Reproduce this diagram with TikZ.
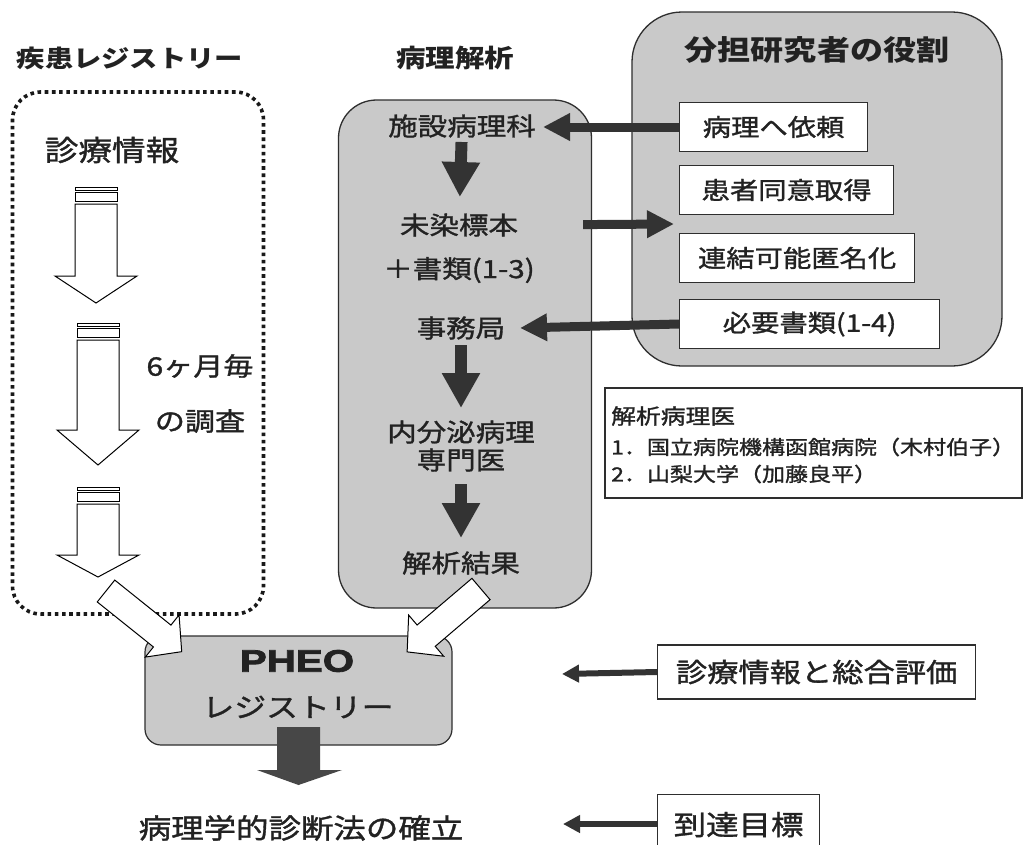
\documentclass[tikz,border=0pt]{standalone}
\usepackage{fontspec}
\setmainfont[FakeStretch=1.18,UprightFeatures={FakeBold=1.3}]{Noto Sans CJK JP}
\newfontfamily\pheofont[FakeStretch=1.3,BoldFeatures={FakeBold=2.5}]{Liberation Sans}
\usetikzlibrary{arrows.meta}
\definecolor{boxgray}{HTML}{C9C9C9}
\definecolor{edge}{HTML}{2E2E2E}
\definecolor{txt}{HTML}{222222}
\definecolor{arr}{HTML}{333333}
\newcommand{\fs}[1]{\fontsize{#1}{#1}\selectfont}
\newcommand{\striparrow}[4]{%
  \draw[stripe] (#1-21,#2) rectangle (#1+21,#2+3);
  \draw[stripe] (#1-21,#2+5) rectangle (#1+21,#2+14);
  \draw[stripe] (#1-21,#2+17) -- (#1-21,#3-#4) -- (#1-41,#3-#4) -- (#1,#3)
     -- (#1+41,#3-#4) -- (#1+21,#3-#4) -- (#1+21,#2+17) -- cycle;}
\newcommand{\diagarrow}[4]{%
  \begin{scope}[shift={(#1,#2)},rotate=#3]
    \draw[stripe] (0,-14) -- (#4-25,-14) -- (#4-25,-27) -- (#4,0)
       -- (#4-25,27) -- (#4-25,14) -- (0,14) -- cycle;
  \end{scope}}
\begin{document}
\begin{tikzpicture}[x=1pt,y=-1pt,
  lbl/.style={text=txt,inner sep=1pt},
  graybox/.style={draw=edge,line width=1.3pt,fill=boxgray},
  wbox/.style={draw=edge,line width=1.2pt,fill=white,inner sep=0pt,minimum height=49pt,anchor=west,text=txt,font=\fs{24}},
  stripe/.style={draw=black,line width=1pt,fill=white,line join=miter},
  vblk/.style={draw=arr,line width=12pt,-{Triangle[length=35pt,width=36pt]}},
  hblk/.style={draw=arr,line width=9pt,-{Triangle[length=27pt,width=26pt]}},
  thinarr/.style={draw=arr,line width=6pt,-{Triangle[length=17pt,width=17pt]}}]
\useasboundingbox (0,0) rectangle (1025,844);
\fill[white] (0,0) rectangle (1025,844);

% column titles
\node[lbl,font=\bfseries\fs{24}] (t1) at (130,58) {疾患レジストリー};
\node[lbl,font=\bfseries\fs{25}] (t2) at (455,58) {病理解析};

% left dotted registry box
\node[draw=black!90,line width=3.6pt,dash pattern=on 3.6pt off 3.6pt,rounded corners=28pt,
      minimum width=251pt,minimum height=522pt] (reg) at (138,353) {};
\node[lbl,font=\fs{28.5}] (shinryo) at (112,150) {診療情報};
\striparrow{96}{187}{303}{27}
\striparrow{98}{323}{465}{35}
\striparrow{98}{487}{577}{22}
\node[lbl,font=\fs{25.5}] (six) at (200,366) {6ヶ月毎};
\node[lbl,font=\fs{25.5}] (chosa) at (200,421) {の調査};

% middle pathology box
\node[graybox,rounded corners=38pt,minimum width=253pt,minimum height=508pt] (mid) at (465,354) {};
\node[lbl,font=\fs{25}] (shisetsu) at (462,126) {施設病理科};
\node[lbl,font=\fs{25}] (misen) at (459,225) {未染標本};
\node[lbl,font=\fs{25}] (shorui) at (459,270) {＋書類(1-3)};
\node[lbl,font=\fs{25}] (jimu) at (461,328) {事務局};
\node[lbl,font=\fs{25}] (naibun) at (461,432) {内分泌病理};
\node[lbl,font=\fs{25}] (senmon) at (461,460) {専門医};
\node[lbl,font=\fs{25}] (kekka) at (461,563) {解析結果};
\draw[vblk,shorten <=16pt,shorten >=28pt] (shisetsu.center) -- (misen.center);
\draw[vblk,shorten <=17pt,shorten >=24pt] (jimu.center) -- (naibun.center);
\draw[vblk,shorten <=24pt,shorten >=25pt] (senmon.center) -- (kekka.center);

% right role box
\node[graybox,rounded corners=50pt,minimum width=370pt,minimum height=354pt] (role) at (817,189) {};
\node[lbl,font=\bfseries\fs{28}] (roletitle) at (817,50) {分担研究者の役割};
\node[wbox,minimum width=188pt] (irai) at (679,127) {病理へ依頼};
\node[wbox,minimum width=214pt] (doui) at (679,190) {患者同意取得};
\node[wbox,minimum width=235pt] (renketsu) at (679,258) {連結可能匿名化};
\node[wbox,minimum width=260pt] (hitsuyo) at (679,324) {必要書類(1-4)};

\coordinate (tipA) at (543,127);
\coordinate (tipB) at (674,224);
\coordinate (tipC) at (520,328);
\draw[hblk] (irai.west) -- (tipA);
\draw[hblk,shorten <=64pt] (misen.east) -- (tipB);
\draw[hblk] (hitsuyo.west) -- (tipC);

% legend box
\node[draw=edge,line width=1.2pt,fill=white,minimum width=417pt,minimum height=110pt] (legend) at (813.5,443) {};
\node[lbl,anchor=west,font=\fs{21}] (leg0) at (610,416) {解析病理医};
\node[lbl,anchor=west,font=\fs{19.5}] (leg1) at (610,447) {1．国立病院機構函館病院（木村伯子）};
\node[lbl,anchor=west,font=\fs{19.5}] (leg2) at (610,474) {2．山梨大学（加藤良平）};

% PHEO registry
\node[graybox,line width=1.2pt,rounded corners=16pt,minimum width=307pt,minimum height=109pt] (pheo) at (298.5,690.5) {};
\node[lbl,font=\pheofont\bfseries\fs{31}] (pheot) at (297,661) {PHEO};
\node[lbl,font=\fs{27}] (pheoreg) at (298,707) {レジストリー};

% white diagonal arrows into PHEO
\diagarrow{106}{591}{-38.7}{97}
\diagarrow{481}{589}{-139.6}{97}

% bottom
\node[lbl,font=\fs{27.5}] (goaltext) at (301,828) {病理学的診断法の確立};
\draw[draw=none,fill=arr!90!white] (277,727) -- (320,727) -- (320,770) -- (342,770) -- (298.5,785)
   -- (257,770) -- (277,770) -- cycle;
\node[wbox,minimum width=318pt,minimum height=54pt,font=\fs{26.5}] (eval) at (657,672) {診療情報と総合評価};
\node[wbox,minimum width=162pt,minimum height=60pt,anchor=north west,font=\fs{27.5}] (goal) at (657,794) {到達目標};
\coordinate (tipD) at (562,674);
\coordinate (tipE) at (563,824);
\draw[thinarr] (eval.west) -- (tipD);
\draw[thinarr] (goal.west |- tipE) -- (tipE);
\end{tikzpicture}
\end{document}
